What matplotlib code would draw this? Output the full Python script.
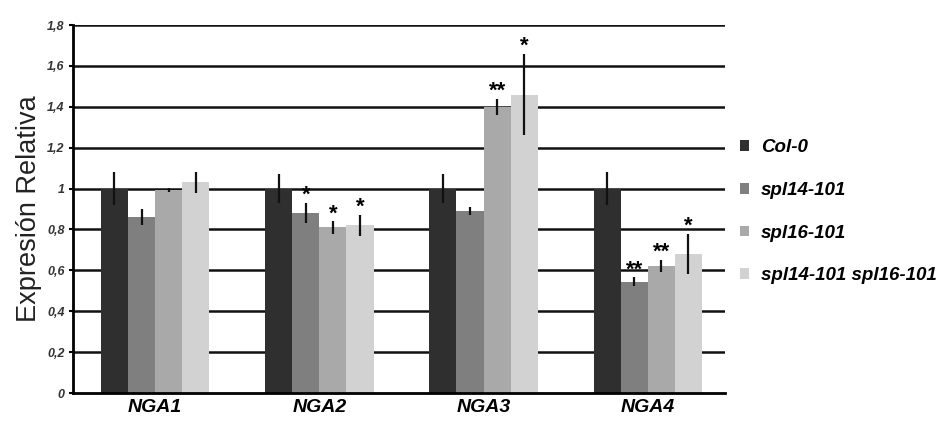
import numpy as np
import matplotlib
matplotlib.use("Agg")
import matplotlib.pyplot as plt

genes = ["NGA1", "NGA2", "NGA3", "NGA4"]
lines = ["Col-0", "spl14-101", "spl16-101", "spl14-101 spl16-101"]
colors = ["#2f2f2f", "#7f7f7f", "#a9a9a9", "#d2d2d2"]

# expression per line, one value per gene
col0 = [1.0, 1.0, 1.0, 1.0]
spl14 = [0.86, 0.88, 0.89, 0.545]
spl16 = [0.995, 0.81, 1.40, 0.62]
double = [1.03, 0.82, 1.46, 0.68]
values = [col0, spl14, spl16, double]

col0_err = [0.08, 0.07, 0.07, 0.08]
spl14_err = [0.04, 0.05, 0.02, 0.02]
spl16_err = [0.01, 0.03, 0.04, 0.03]
double_err = [0.05, 0.05, 0.2, 0.1]
errors = [col0_err, spl14_err, spl16_err, double_err]

stars = [["", "", "", ""],
         ["", "*", "", "**"],
         ["", "*", "**", "**"],
         ["", "*", "*", "*"]]

yticks = [0, 0.2, 0.4, 0.6, 0.8, 1.0, 1.2, 1.4, 1.6, 1.8]
ytick_labels = ["0", "0,2", "0,4", "0,6", "0,8", "1", "1,2", "1,4", "1,6", "1,8"]

plt.rcParams['font.family'] = ['Liberation Sans', 'DejaVu Sans']

fig = plt.figure(figsize=(9.51, 4.23), dpi=100)
ax = fig.add_axes([73 / 951, (423 - 393) / 423, 652 / 951, 368 / 423])

x = np.arange(len(genes))
w = 0.165
for i in range(4):
    pos = x + (i - 1.5) * w
    ax.bar(pos, values[i], w, color=colors[i], zorder=2, label=lines[i])
    ax.errorbar(pos, values[i], yerr=errors[i], fmt="none", ecolor="#111111",
                elinewidth=1.6, capsize=0, zorder=3)
    for j in range(4):
        if stars[i][j]:
            ax.text(pos[j], values[i][j] + errors[i][j] - 0.015, stars[i][j],
                    ha="center", va="bottom", fontsize=16, fontweight="bold", zorder=4)

for t in yticks[1:]:
    ax.axhline(t, color="#111111", lw=1.8, zorder=1)

ax.set_xlim(-0.5, 3.47)
ax.set_ylim(0, 1.8)
ax.set_yticks(yticks)
ax.set_yticklabels(ytick_labels, fontsize=9, fontweight="bold", style="italic", color="#333333")
ax.set_xticks(x)
ax.set_xticklabels(genes, fontsize=14, fontweight="bold", style="italic")
ax.tick_params(axis="x", length=0, pad=4)
ax.tick_params(axis="y", length=3, width=1.5, direction="out", pad=3)
for s in ["top", "right"]:
    ax.spines[s].set_visible(False)
ax.spines["left"].set_linewidth(2)
ax.spines["bottom"].set_linewidth(2)
ax.set_ylabel("Expresión Relativa", fontsize=19.5, color="#222222", labelpad=4)

leg = ax.legend(loc="upper left", bbox_to_anchor=(1.0, 0.73), frameon=False,
                prop={"size": 13.5, "weight": "bold", "style": "italic"},
                handlelength=0.5, handleheight=0.5, labelspacing=1.37, handletextpad=0.6,
                borderaxespad=0.4)

fig.savefig("out.png", dpi=100)
